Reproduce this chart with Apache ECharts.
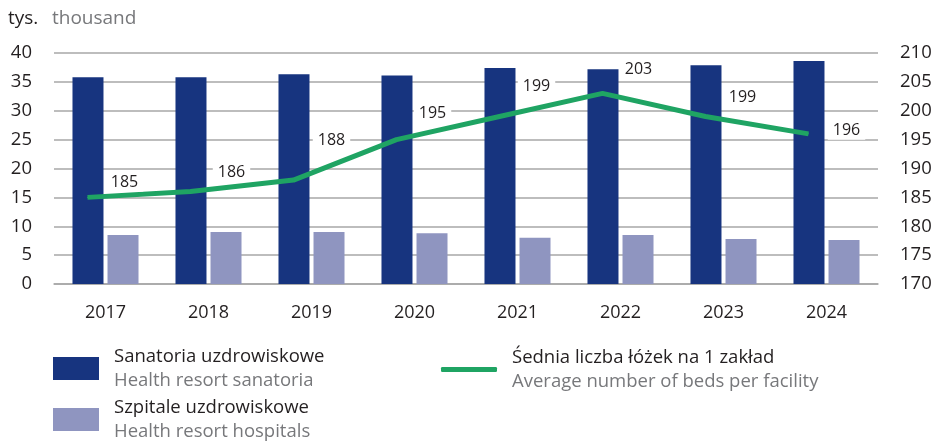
<!DOCTYPE html>
<html>
<head>
<meta charset="utf-8">
<script src="https://cdn.jsdelivr.net/npm/echarts@6/dist/echarts.min.js"></script>
<style>
  html, body { margin: 0; padding: 0; background: #fff; }
  #chart { width: 935px; height: 444px; }
</style>
</head>
<body>
<div id="chart"></div>
<script>
// dane
var years = ['2017', '2018', '2019', '2020', '2021', '2022', '2023', '2024'];
var sanatoria = [35.8, 35.8, 36.3, 36.1, 37.4, 37.2, 37.9, 38.6];
var szpitale = [8.5, 9.0, 9.0, 8.8, 8.0, 8.5, 7.8, 7.6];
var sredniaLozek = [185, 186, 188, 195, 199, 203, 199, 196];

var names = {
  san: ['Sanatoria uzdrowiskowe', 'Health resort sanatoria'],
  szp: ['Szpitale uzdrowiskowe', 'Health resort hospitals'],
  avg: ['Śednia liczba łóżek na 1 zakład', 'Average number of beds per facility']
};

// where each line label sits relative to its point
var labelShift = [[37, -15], [41, -19], [38, -40], [36, -26], [37, -30], [36, -24], [37, -19], [38, -3]];

var FONT = '"Open Sans", sans-serif';
var DARK = '#17347f';
var LIGHT = '#8f95c0';
var GREEN = '#1fa463';

var chart = echarts.init(document.getElementById('chart'));

function legendFmt(name) {
  var pair = name == names.san[0] ? names.san : (name == names.szp[0] ? names.szp : names.avg);
  return '{pl|' + pair[0] + '}\n{en|' + pair[1] + '}';
}
var legendText = {
  padding: [0, 0, 0, 10],
  rich: {
    pl: { fontFamily: FONT, fontSize: 18.5, color: '#231f20', lineHeight: 24 },
    en: { fontFamily: FONT, fontSize: 18.5, color: '#77787b', lineHeight: 24 }
  }
};

var lineData = sredniaLozek.map(function (v, i) {
  return { value: v, label: { offset: labelShift[i] } };
});

var option = {
  animation: false,
  textStyle: { fontFamily: FONT },
  graphic: [{
    type: 'text', left: 8, top: 9,
    style: { text: 'tys.', fontFamily: FONT, fontSize: 19, fill: '#231f20' }
  }, {
    type: 'text', left: 52, top: 9,
    style: { text: 'thousand', fontFamily: FONT, fontSize: 19, fill: '#77787b' }
  }],
  legend: [{
    orient: 'vertical', left: 53, top: 347, padding: 0,
    itemWidth: 46, itemHeight: 23, itemGap: 8,
    icon: 'rect',
    data: [names.san[0], names.szp[0]],
    formatter: legendFmt,
    textStyle: legendText
  }, {
    left: 441, top: 348, padding: 0,
    itemWidth: 56, itemHeight: 5,
    icon: 'roundRect',
    data: [names.avg[0]],
    formatter: legendFmt,
    textStyle: legendText
  }],
  grid: [
    { left: 54, right: 57, top: 53, bottom: 160 },
    { left: 36, right: 75, top: 53, bottom: 160 }
  ],
  xAxis: [{
    type: 'category', gridIndex: 0, data: years,
    axisLine: { lineStyle: { color: '#a7a7a7', width: 1.5 } },
    axisTick: { show: false },
    axisLabel: { fontFamily: FONT, fontSize: 18, color: '#231f20', margin: 20 }
  }, {
    type: 'category', gridIndex: 1, data: years, show: false
  }],
  yAxis: [{
    type: 'value', gridIndex: 0, min: 0, max: 40, interval: 5,
    axisLine: { show: false }, axisTick: { show: false },
    splitLine: { lineStyle: { color: '#a7a7a7', width: 1.5 } },
    axisLabel: { fontFamily: FONT, fontSize: 18.5, color: '#231f20', margin: 22 }
  }, {
    type: 'value', gridIndex: 0, position: 'right', min: 170, max: 210, interval: 5,
    axisLine: { show: false }, axisTick: { show: false }, splitLine: { show: false },
    axisLabel: { fontFamily: FONT, fontSize: 18.5, color: '#231f20', margin: 22 }
  }, {
    type: 'value', gridIndex: 1, min: 170, max: 210, interval: 5, show: false
  }],
  series: [{
    name: names.san[0], type: 'bar', xAxisIndex: 0, yAxisIndex: 0,
    data: sanatoria, barWidth: 31, barGap: '13%',
    itemStyle: { color: DARK }
  }, {
    name: names.szp[0], type: 'bar', xAxisIndex: 0, yAxisIndex: 0,
    data: szpitale, barWidth: 31, barGap: '13%',
    itemStyle: { color: LIGHT }
  }, {
    name: names.avg[0], type: 'line', xAxisIndex: 1, yAxisIndex: 2,
    data: lineData,
    symbol: 'circle', symbolSize: 1, showSymbol: true,
    lineStyle: { color: GREEN, width: 5 },
    itemStyle: { color: GREEN },
    label: {
      show: true, position: 'inside',
      fontFamily: FONT, fontSize: 16, color: '#231f20',
      backgroundColor: '#fff', padding: [1, 5]
    },
    z: 5
  }]
};

chart.setOption(option);
</script>
</body>
</html>
